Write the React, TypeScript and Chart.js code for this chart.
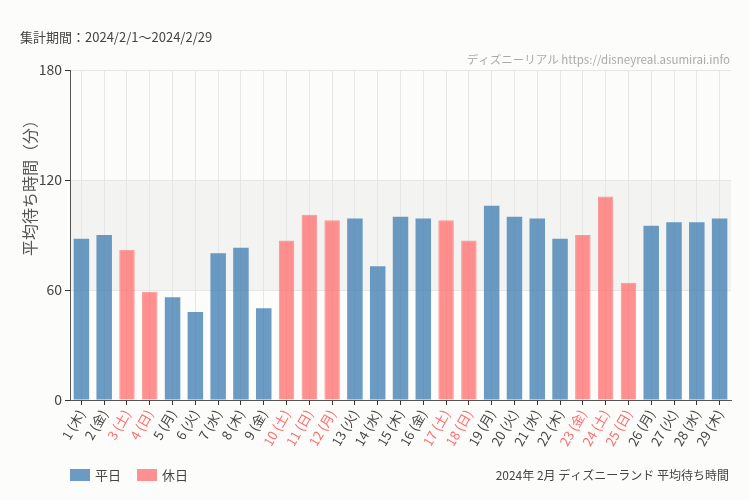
import React, { useEffect, useRef } from "react";
import { Chart, registerables } from "chart.js";

Chart.register(...registerables);

const days = [1, 2, 3, 4, 5, 6, 7, 8, 9, 10, 11, 12, 13, 14, 15, 16, 17, 18, 19, 20, 21, 22, 23, 24, 25, 26, 27, 28, 29];
const weekdays = ["木", "金", "土", "日", "月", "火", "水", "木", "金", "土", "日", "月", "火", "水", "木", "金", "土", "日", "月", "火", "水", "木", "金", "土", "日", "月", "火", "水", "木"];
const holidayDays = [3, 4, 10, 11, 12, 17, 18, 23, 24, 25];
const waitTimes = [88, 90, 82, 59, 56, 48, 80, 83, 50, 87, 101, 98, 99, 73, 100, 99, 98, 87, 106, 100, 99, 88, 90, 111, 64, 95, 97, 97, 99];
const yTicks = [0, 60, 120, 180];
const seriesNames = ["平日", "休日"];
const periodText = "集計期間：2024/2/1〜2024/2/29";
const watermark = "ディズニーリアル https://disneyreal.asumirai.info";
const footerText = "2024年 2月 ディズニーランド 平均待ち時間";
const yTitle = "平均待ち時間（分）";

const BLUE = "rgba(70,130,180,0.8)";
const PINK = "rgba(255,99,99,0.7)";
const FONT = "'Noto Sans CJK JP', 'Noto Sans', sans-serif";

const labels = days.map((d, i) => `${d} (${weekdays[i]})`);
const isHoliday = days.map((d) => holidayDays.includes(d));
const weekdayData = waitTimes.map((v, i) => (isHoliday[i] ? null : v));
const holidayData = waitTimes.map((v, i) => (isHoliday[i] ? v : null));

const decorPlugin = {
  id: "decor",
  beforeDraw(chart: any) {
    const { ctx, chartArea, scales } = chart;
    ctx.save();
    ctx.fillStyle = "#fcfdfb";
    ctx.fillRect(0, 0, chart.width, chart.height);
    const y1 = scales.y.getPixelForValue(120);
    const y0 = scales.y.getPixelForValue(60);
    ctx.fillStyle = "#f3f4f2";
    ctx.fillRect(chartArea.left, y1, chartArea.right - chartArea.left, y0 - y1);
    ctx.restore();
  },
  afterDraw(chart: any) {
    const { ctx, chartArea } = chart;
    ctx.save();
    ctx.textBaseline = "middle";
    // period text
    ctx.fillStyle = "#444";
    ctx.font = `13px ${FONT}`;
    ctx.textAlign = "left";
    ctx.fillText(periodText, 20, 37);
    // watermark
    ctx.fillStyle = "#aaa";
    ctx.font = `11.5px ${FONT}`;
    ctx.textAlign = "right";
    ctx.fillText(watermark, 730, 60);
    // y title
    ctx.save();
    ctx.translate(30, 184);
    ctx.rotate(-Math.PI / 2);
    ctx.textAlign = "center";
    ctx.fillStyle = "#555";
    ctx.font = `16px ${FONT}`;
    ctx.fillText(yTitle, 0, 0);
    ctx.restore();
    // legend
    const colors = [BLUE, PINK];
    const xs = [70, 137];
    ctx.font = `13px ${FONT}`;
    ctx.textAlign = "left";
    for (let i = 0; i < 2; i++) {
      ctx.fillStyle = colors[i];
      ctx.fillRect(xs[i], 469, 20, 12);
      ctx.fillStyle = "#444";
      ctx.fillText(seriesNames[i], xs[i] + 25, 475);
    }
    // footer
    ctx.textAlign = "right";
    ctx.font = `12px ${FONT}`;
    ctx.fillStyle = "#444";
    ctx.fillText(footerText, chartArea.right - 2, 475);
    ctx.restore();
  },
};

export default function App() {
  const ref = useRef<HTMLCanvasElement | null>(null);
  useEffect(() => {
    if (!ref.current) return;
    const chart = new Chart(ref.current, {
      type: "bar",
      data: {
        labels,
        datasets: [
          {
            label: seriesNames[0],
            data: weekdayData,
            backgroundColor: BLUE,
            borderWidth: 0,
            grouped: false,
            categoryPercentage: 0.8,
            barPercentage: 0.85,
          } as any,
          {
            label: seriesNames[1],
            data: holidayData,
            backgroundColor: PINK,
            borderColor: "rgba(255,120,120,0.75)",
            borderWidth: 1,
            grouped: false,
            categoryPercentage: 0.8,
            barPercentage: 0.85,
          } as any,
        ],
      },
      options: {
        animation: false,
        responsive: false,
        layout: { padding: { top: 70, right: 19, left: 0, bottom: 0 } },
        plugins: { legend: { display: false }, tooltip: { enabled: false } },
        scales: {
          x: {
            afterFit(scale: any) {
              scale.height = 100;
            },
            grid: {
              offset: false,
              color: "#e6e6e6",
              tickColor: "#333",
              tickLength: 5,
            },
            border: { color: "#555", width: 1 },
            ticks: {
              autoSkip: false,
              maxRotation: 60,
              minRotation: 60,
              padding: 2,
              font: { size: 13, family: FONT },
              color: (c: any) => (isHoliday[c.index] ? "#ff6b6b" : "#444"),
            },
          },
          y: {
            min: 0,
            max: 180,
            afterFit(scale: any) {
              scale.width = 70;
            },
            afterBuildTicks(scale: any) {
              scale.ticks = yTicks.map((v) => ({ value: v }));
            },
            grid: {
              color: "#e6e6e6",
              tickColor: "#333",
              tickLength: 5,
            },
            border: { color: "#555", width: 1 },
            ticks: {
              padding: 3,
              font: { size: 14, family: FONT },
              color: "#444",
            },
          },
        },
      },
      plugins: [decorPlugin],
    });
    return () => chart.destroy();
  }, []);
  return (
    <div style={{ position: "fixed", left: 0, top: 0, width: 750, height: 500 }}>
      <canvas ref={ref} width={750} height={500} style={{ width: 750, height: 500 }} />
    </div>
  );
}
